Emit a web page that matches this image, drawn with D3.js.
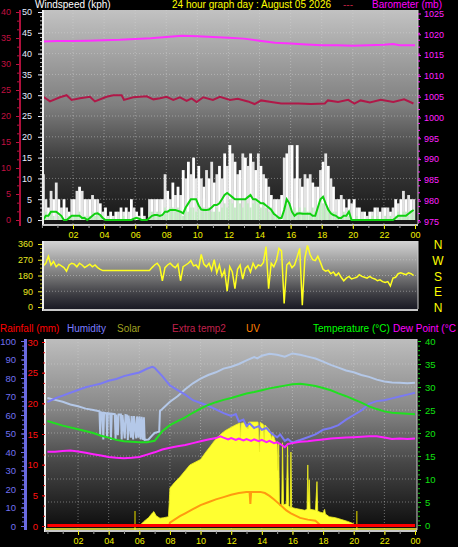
<!DOCTYPE html>
<html><head><meta charset="utf-8">
<script src="https://cdn.jsdelivr.net/npm/d3@7"></script>
<style>
body{margin:0;background:#000;}
svg{display:block;font-family:"Liberation Sans",Arial,sans-serif;}
</style>
</head><body>
<svg id="c" width="458" height="547"></svg>
<script>
// ---------- DATA ----------
const hourTicks = [2,4,6,8,10,12,14,16,18,20,22,24];
const hourLabels = ["02","04","06","08","10","12","14","16","18","20","22","00"];

// wind (kph), one value per 10 minutes
const gust = [11,5,3,7,5,9,5,3,5,3,2,5, 5,7,8,7,5,5,5,6,5,5,4,2, 3,1,2,1,2,2,3,2,3,2,5,3,
  2,1,3,1,0,5,5,5,5,5,5,11, 7,5,9,6,8,6,12,10,14,11,15,10, 13,10,8,12,10,14,9,11,13,10,16,13,
  18,16,14,11,12,16,15,13,16,14,12,16, 13,11,10,8,6,5,5,5,6,15,16,18, 18,10,18,10,8,11,10,11,9,8,8,12,
  14,16,13,10,8,5,5,6,5,3,5,4, 5,3,3,2,2,1,2,2,3,3,2,3, 3,3,2,3,5,4,5,7,5,6,5,5];
const windSpeed = [1,2,1,2,1,0,1,1,0,0,1,1, 1,1,2,1,1,1,1,2,1,2,1,0, 0,0,0,0,0,0,0,1,0,0,0,0,
  0,0,0,0,0,2,2,1,2,2,1,3, 2,3,3,2,3,2,1,3,2,3,3,2, 3,2,3,2,3,2,2,3,2,3,4,3,
  5,4,3,5,4,3,5,4,3,4,5,4, 3,4,3,2,3,2,1,1,0,3,4,3, 2,3,2,3,2,3,2,2,3,2,3,4,
  4,3,3,2,2,2,1,1,2,1,1,0, 0,1,0,0,0,0,0,1,0,1,0,0, 1,0,1,0,1,2,1,2,2,1,2,2];
const windAvg = [0,1,1,2,2,2,1.5,1,0,0,0.5,1, 1,1,1,0.5,0.5,0,0.5,1,1.5,1.6,1.2,0.5, 0,0,0,0,0,0,0,0,0,0,0,0.3,
  0.5,0.3,0,0,0,0.5,1,1.2,1.2,1,1.2,2, 2,2.4,2.4,2.4,2.2,2,1.6,3,4,5,5,5, 3.5,2.5,2.4,2.4,2.5,3,3.6,3.6,4,5,6,6.5,
  6,5.5,5,5,5,5,5,5.5,6,5,5,4.5, 4,4,3.5,3,2.5,1.5,1,0.5,0.5,2.4,5,4, 2,1,1.5,1.6,1.5,1.5,1.5,1.5,1,1,3,5,
  5.6,4,2.5,1.6,1.2,1,0.5,0.5,1,1,2,0, 0,0,0,0,0,0,0,0,0,0,0,0, 0,0,0,0,0.5,1,1,1,1,1.5,2,2.4];
// wind direction (degrees), one value per 10 minutes
const windDir = [235,250,290,240,260,230,245,235,225,205,240,250, 245,230,250,240,225,235,245,230,240,225,215,208,
  208,208,208,208,208,208,208,208,208,208,208,208, 208,208,208,208,208,208,225,240,250,230,150,225,
  240,250,235,225,245,150,230,240,250,265,235,240, 220,300,245,230,250,210,270,195,240,175,210,90,
  230,200,105,215,240,160,220,235,200,250,220,240, 235,255,345,105,250,230,265,335,320,20,240,255,
  225,240,285,335,10,280,352,300,270,265,290,255, 215,205,210,190,200,180,195,170,150,165,175,160,
  165,170,185,175,170,165,175,165,160,150,155,145, 140,145,120,165,170,190,195,190,185,195,190,180];

// barometer (mb), [hour, value]
const barometer = [[0,1017.9],[1,1018.0],[2,1018.0],[3,1018.1],[4,1018.2],[5,1018.3],[6,1018.5],[7,1018.7],[8,1019.0],
  [9,1019.3],[10,1019.2],[11,1019.0],[12,1018.8],[13,1018.6],[14,1018.1],[15,1017.6],[16,1017.4],[17,1017.2],
  [18,1017.0],[19,1017.0],[20,1016.9],[21,1017.0],[22,1017.1],[22.6,1017.3],[23,1017.0],[24,1017.0]];
// extra sensor (red left axis), [hour, value]
const extraTemp = [[0.09,23.7],[0.52,22.8],[1.16,23.6],[1.59,24.0],[1.91,23.1],[2.45,23.4],[3.09,23.7],[3.41,22.8],
  [4.16,23.7],[4.59,24.0],[5.13,24.0],[5.28,23.1],[5.88,23.6],[6.74,23.8],[7.17,23.2],[7.6,23.4],[8.02,23.7],
  [8.45,23.1],[8.88,23.6],[9.31,22.9],[9.63,23.4],[9.95,22.7],[10.38,23.6],[11.0,23.1],[11.45,23.7],[12.1,23.1],
  [12.6,23.3],[13.25,22.8],[13.68,22.3],[14.1,23.0],[14.75,22.7],[15.4,22.4],[16.5,22.4],[17.3,22.3],[18.2,22.4],
  [18.4,23.0],[19.05,22.7],[19.7,23.1],[20.1,22.4],[20.5,23.0],[21.1,22.6],[21.8,23.1],[22.6,22.7],[23.3,23.2],[23.9,22.4]];

// bottom panel, [hour, value]
const humidity = [[0,67],[0.5,69],[1,70.5],[1.5,72],[2,73.5],[2.5,75],[3,76],[3.5,77],[4,78.5],[4.5,79.5],[5,81],
  [5.5,82],[6,83],[6.5,85],[6.85,86],[7,85.5],[7.5,81],[8,76],[8.5,73.5],[9,71],[9.5,68],[10,66.5],[10.5,65],
  [11,63],[11.5,61],[12,59.5],[12.3,60.5],[12.5,56.5],[12.8,57.5],[13,54],[13.2,55.5],[13.5,53],[13.8,54],[14,52],
  [14.3,53],[14.5,51],[14.8,49],[15,48],[15.2,49.5],[15.5,46],[15.7,47],[16,45],[16.3,46],[16.5,46.5],[17,48],
  [17.5,49.5],[18,52],[18.5,53],[19,54.5],[19.5,57.5],[20,60],[20.5,62.5],[21,66],[21.5,67.5],[22,68],[22.5,69],
  [23,70],[23.5,71],[24,72]];
const extraTemp1 = [[0,27.6],[0.5,27.2],[1,26.8],[1.5,26.2],[2,25.8],[2.5,25.3],[3,25.0],[3.4,24.7],
  [3.45,19.5],[3.5,24.5],[3.6,24.4],[3.65,18.6],[3.7,24.4],[3.85,24.3],[3.9,19],[3.95,24.3],[4.1,24.2],[4.15,18.5],
  [4.2,24.2],[4.4,24.1],[4.45,18.7],[4.5,24],[4.6,19.5],[4.65,24],[4.8,24],[4.85,18.6],[4.9,23.9],[5.05,18.8],
  [5.1,23.9],[5.2,23.8],[5.25,18.5],[5.3,23.8],[5.45,19],[5.5,23.7],[5.6,18.6],[5.65,23.7],[5.8,18.8],[5.85,23.6],
  [5.95,19],[6.0,23.6],[6.1,18.6],[6.15,23.5],[6.25,18.5],[6.3,23.4],[6.35,18.5],[6.6,18.6],[6.85,19.5],[7.0,20],
  [7.3,20.3],[7.35,24.8],[7.5,25.2],[8,26.8],[8.5,28],[9,29.5],[9.5,30.8],[10,31.8],[10.5,32.6],[11,33.2],
  [11.5,34],[12,34.4],[12.5,35],[13,35.8],[13.5,36.5],[13.7,36.2],[14,36.8],[14.5,37.2],[15,37],[15.5,36.6],
  [16,37.3],[16.5,37],[17,36.6],[17.5,36.2],[18,35.5],[18.5,34.8],[19,34.2],[19.5,33.6],[20,33.2],[20.5,32.6],
  [21,32.2],[21.5,31.6],[22,31.2],[22.5,31.0],[23,30.9],[23.5,30.8],[24,30.9]];
const temperature = [[0,22.6],[1,21.6],[2,20.8],[3,20.0],[3.5,19.4],[4,19.0],[4.5,18.5],[5,18.2],[6,18.0],[6.5,18.0],
  [7,18.3],[7.5,20.4],[8,21.7],[8.5,22.6],[9,23.4],[9.5,24.4],[10,25.3],[10.5,26.1],[11,26.7],[11.5,27.2],[12,27.6],
  [12.5,28.1],[13,28.6],[13.5,28.9],[14,29.3],[14.5,29.7],[15,30.0],[15.5,30.3],[16,30.6],[16.5,30.7],[17,30.5],
  [17.5,30.2],[18,29.8],[18.5,29.3],[19,28.6],[19.5,28.0],[20,27.3],[20.5,26.6],[21,25.8],[21.5,25.2],[22,24.7],
  [22.5,24.4],[23,24.3],[23.5,24.2],[24,24.1]];
const dewPoint = [[0,15.9],[0.5,15.9],[1,16.1],[1.5,16.2],[2,16.0],[2.5,15.7],[3,15.4],[3.5,15.1],[4,14.8],[4.5,14.6],
  [5,14.5],[5.5,14.6],[6,14.8],[6.5,15.3],[7,15.8],[7.5,16.4],[8,16.8],[8.5,17.1],[9,17.4],[9.5,17.8],[10,18.2],
  [10.5,18.6],[11,18.9],[11.3,19.3],[11.5,19.0],[11.8,18.6],[12,18.9],[12.3,18.5],[12.5,18.8],[12.8,18.4],[13,18.7],
  [13.3,18.3],[13.5,18.6],[13.8,18.2],[14,18.5],[14.3,18.0],[14.5,18.3],[14.8,17.8],[15,18.0],[15.3,17.4],[15.5,16.9],
  [15.7,17.6],[16,17.8],[16.5,18.1],[17,18.2],[17.5,18.4],[18,18.6],[18.5,18.8],[19,18.9],[19.5,19.0],[20,19.1],
  [20.5,19.2],[21,19.3],[21.5,19.3],[22,19.0],[22.5,18.7],[23,18.8],[23.5,18.7],[24,18.8]];
const solar = [[6.0,0],[6.3,25],[6.6,45],[6.85,70],[6.95,78],[7.1,55],[7.35,42],[7.6,45],[7.9,50],[7.95,120],[8.0,205],
  [8.3,235],[8.65,265],[9.0,300],[9.3,330],[9.65,345],[10.0,360],[10.3,395],[10.6,427],[10.9,460],[11.26,492],
  [11.6,515],[11.92,530],[12.25,545],[12.57,557],[12.6,470],[12.65,555],[12.9,560],[13.1,525],[13.15,562],[13.5,562],
  [13.75,562],[13.85,400],[13.9,560],[14.1,548],[14.15,460],[14.2,546],[14.5,519],[14.65,470],[14.7,505],[14.85,465],
  [15.0,440],[15.05,300],[15.1,445],[15.15,110],[15.3,115],[15.35,450],[15.42,115],[15.6,120],[15.68,430],[15.75,110],
  [15.85,100],[15.9,400],[15.95,100],[16.2,95],[16.5,90],[16.8,85],[16.95,90],[17.0,330],[17.05,130],[17.1,250],
  [17.15,90],[17.5,85],[17.6,240],[17.65,80],[17.8,75],[18.0,70],[18.1,90],[18.15,65],[18.4,50],[18.8,45],[19.2,35],
  [19.6,25],[20.0,12],[20.1,0]];
const uvIndex = [[7.95,0],[8.0,0.3],[8.3,0.55],[8.65,0.85],[9.0,1.1],[9.5,1.45],[10.0,1.8],[10.5,2.05],[11.0,2.3],
  [11.5,2.5],[12.0,2.7],[12.5,2.85],[13.0,2.95],[13.2,2.95],[13.25,1.9],[13.3,2.95],[13.6,2.95],[13.9,2.95],[14.2,2.85],
  [14.5,2.6],[14.8,2.3],[15.05,2.0],[15.3,1.7],[15.6,1.35],[15.9,1.1],[16.2,0.9],[16.5,0.7],[17.0,0.55],[17.5,0.45],
  [17.8,0.1],[17.85,0]];
const rainfall = [[0,0],[24,0]];
const sunMarks = [5.72, 20.2];
const compass = ["N","W","S","E","N"];

// ---------- LAYOUT ----------
const svg = d3.select("#c");
const defs = svg.append("defs");
function grad(id, stops){
  const g = defs.append("linearGradient").attr("id",id).attr("x1",0).attr("y1",0).attr("x2",0).attr("y2",1);
  stops.forEach(([o,c])=>g.append("stop").attr("offset",o).attr("stop-color",c));
}
grad("gTop", [[0,"#c2c2c2"],[0.45,"#7e7e7e"],[0.7,"#3c3c3c"],[1,"#151515"]]);
grad("gMid", [[0,"#d4d4d4"],[0.5,"#7a7a7a"],[0.8,"#3a3a40"],[1,"#1a1a24"]]);
grad("gBot", [[0,"#bdbdbd"],[0.35,"#8a8a8a"],[0.65,"#464646"],[1,"#0c0c0c"]]);

const TOP = {x0:43, x1:418, y0:10, y1:224};
const MID = {x0:43, x1:418, y0:241, y1:309};
const BOT = {x0:45, x1:417, y0:339, y1:530};

const xTop = d3.scaleLinear().domain([0,24]).range([41.9,415]);
const xBot = d3.scaleLinear().domain([0,24]).range([47.4,415]);
const yWind = d3.scaleLinear().domain([0,50]).range([220,12]);
const yRed = d3.scaleLinear().domain([0,40]).range([220,12]);
const yBaro = d3.scaleLinear().domain([975,1025]).range([220,12]);
const yDir = d3.scaleLinear().domain([0,360]).range([307,244]);
const yHum = d3.scaleLinear().domain([0,100]).range([526,341]);
const yRain = d3.scaleLinear().domain([0,30]).range([526,342]);
const yTemp = d3.scaleLinear().domain([0,40]).range([525,341]);
const ySolar = d3.scaleLinear().domain([0,1000]).range([526,341]);
const yUV = d3.scaleLinear().domain([0,16]).range([526,341]);
const fmt = d3.format("d");

function panel(p, gid){
  svg.append("rect").attr("x",p.x0).attr("y",p.y0).attr("width",p.x1-p.x0).attr("height",p.y1-p.y0).attr("fill",`url(#${gid})`);
}
function grid(p, xs, xvals, ys, yvals){
  const g = svg.append("g").attr("stroke","#d8d8d8").attr("stroke-opacity",0.45).attr("stroke-dasharray","1,2");
  xvals.forEach(v=>g.append("line").attr("x1",xs(v)).attr("x2",xs(v)).attr("y1",p.y0).attr("y2",p.y1));
  yvals.forEach(v=>g.append("line").attr("x1",p.x0).attr("x2",p.x1).attr("y1",ys(v)).attr("y2",ys(v)));
}
function frame(p){
  svg.append("line").attr("x1",p.x0).attr("x2",p.x0).attr("y1",p.y0).attr("y2",p.y1+2).attr("stroke","#f0f0f0").attr("stroke-width",2);
  svg.append("line").attr("x1",p.x0).attr("x2",p.x1).attr("y1",p.y1+1).attr("y2",p.y1+1).attr("stroke","#c8c8c8").attr("stroke-width",2);
  svg.append("line").attr("x1",p.x1).attr("x2",p.x1).attr("y1",p.y0).attr("y2",p.y1).attr("stroke","#d0d0d0").attr("stroke-width",1);
}
function axis(gen, tx, ty, color, fontSize){
  const g = svg.append("g").attr("transform",`translate(${tx},${ty})`).call(gen);
  g.select("path.domain").remove();
  g.selectAll("line").attr("stroke",color);
  g.selectAll("text").attr("fill",color).style("font-size",(fontSize||9)+"px").style("font-family",'"Liberation Sans",Arial,sans-serif');
  return g;
}
function minor(gen, tx, ty, color){
  const g = svg.append("g").attr("transform",`translate(${tx},${ty})`).call(gen.tickFormat(""));
  g.select("path.domain").remove();
  g.selectAll("line").attr("stroke",color);
}
const hourly = d3.range(0,25,1);

// ---------- TOP PANEL ----------
panel(TOP,"gTop");
grid(TOP, xTop, hourTicks.slice(0,11), yWind, d3.range(5,50,5));
const binW = xTop(1/6)-xTop(0);
svg.append("g").selectAll("rect").data(gust).join("rect")
  .attr("x",(d,i)=>xTop(i/6)).attr("width",binW+0.2)
  .attr("y",d=>yWind(d)).attr("height",d=>yWind(0)-yWind(d))
  .attr("fill",(d,i)=> i%2 ? "#e4e4e4" : "#ffffff");
svg.append("g").selectAll("rect").data(windSpeed).join("rect")
  .attr("x",(d,i)=>xTop(i/6)+0.3).attr("width",binW-0.6)
  .attr("y",d=>yWind(d)).attr("height",d=>yWind(0)-yWind(d))
  .attr("fill","#c4ecc4");
svg.append("path").datum(windAvg).attr("fill","none").attr("stroke","#10d010").attr("stroke-width",2)
  .attr("d",d3.line().x((d,i)=>xTop(i/6+1/12)).y(d=>yWind(d)));
svg.append("path").datum(barometer).attr("fill","none").attr("stroke","#ff30ff").attr("stroke-width",2)
  .attr("d",d3.line().x(d=>xTop(d[0])).y(d=>yBaro(d[1])));
svg.append("path").datum(extraTemp).attr("fill","none").attr("stroke","#b01848").attr("stroke-width",2)
  .attr("d",d3.line().x(d=>xTop(d[0])).y(d=>yRed(d[1])));
frame(TOP);

// top axes
svg.append("line").attr("x1",20).attr("x2",20).attr("y1",TOP.y0).attr("y2",TOP.y1+2).attr("stroke","#b0103c").attr("stroke-width",2);
axis(d3.axisLeft(yRed).tickValues(d3.range(0,41,5)).tickSize(3).tickPadding(5), 19, 0, "#c01040");
minor(d3.axisLeft(yRed).tickValues(d3.range(0,40,5/3)).tickSize(2), 19, 0, "#c01040");
axis(d3.axisLeft(yWind).tickValues(d3.range(0,51,5)).tickSize(4).tickPadding(6), 42, 0, "#e4ecff");
minor(d3.axisLeft(yWind).tickValues(d3.range(0,50,1)).tickSize(2), 42, 0, "#c8c8c8");
axis(d3.axisRight(yBaro).tickValues(d3.range(975,1026,5)).tickFormat(fmt).tickSize(3).tickPadding(3), 418, 1.5, "#ff20ff");
minor(d3.axisRight(yBaro).tickValues(d3.range(975,1025,5/3)).tickSize(2), 418, 0, "#ff20ff");
minor(d3.axisBottom(xTop).tickValues(hourly).tickSize(3), 0, 225, "#a0a0a0");
axis(d3.axisBottom(xTop).tickValues(hourTicks).tickFormat((d,i)=>hourLabels[i]).tickSize(4).tickPadding(3), 0, 225, "#f0f000");

// titles
const titles = [["Windspeed (kph)","#ffffff",35],["24 hour graph day : August 05 2026","#ffff00",172],
  ["---","#c02040",343],["Barometer (mb)","#ff00ff",372]];
svg.append("g").selectAll("text").data(titles).join("text")
  .attr("x",d=>d[2]).attr("y",7.5).attr("fill",d=>d[1]).style("font-size","10px").text(d=>d[0]);

// ---------- MIDDLE PANEL ----------
panel(MID,"gMid");
grid(MID, xTop, [], yDir, [90,180,270]);
svg.append("path").datum(windDir).attr("fill","none").attr("stroke","#ffff20").attr("stroke-width",1.5)
  .attr("d",d3.line().x((d,i)=>xTop(i/6+1/12)).y(d=>yDir(d)));
frame(MID);
axis(d3.axisLeft(yDir).tickValues([0,90,180,270,360]).tickSize(4).tickPadding(5), 42, 0, "#e8e820");
minor(d3.axisLeft(yDir).tickValues(d3.range(0,360,22.5)).tickSize(2), 42, 0, "#b0b020");
svg.append("g").selectAll("text").data(compass).join("text")
  .attr("x",438).attr("y",(d,i)=>yDir(360-i*90)+5).attr("text-anchor","middle")
  .attr("fill","#ffff00").style("font-size","12px").text(d=>d);

// ---------- BOTTOM PANEL ----------
panel(BOT,"gBot");
grid(BOT, xBot, hourTicks.slice(0,11), yTemp, d3.range(5,40,5));
svg.append("path").datum(solar).attr("fill","#ffff30").attr("stroke","#f0f020").attr("stroke-width",0.8)
  .attr("d",d3.area().x(d=>xBot(d[0])).y0(ySolar(0)).y1(d=>ySolar(d[1])));
svg.append("path").datum(uvIndex).attr("fill","none").attr("stroke","#ff9a10").attr("stroke-width",2)
  .attr("d",d3.line().x(d=>xBot(d[0])).y(d=>yUV(d[1])));
svg.append("path").datum(extraTemp1).attr("fill","none").attr("stroke","#b4c8e8").attr("stroke-width",2)
  .attr("d",d3.line().x(d=>xBot(d[0])).y(d=>yTemp(d[1])));
svg.append("path").datum(humidity).attr("fill","none").attr("stroke","#7a7af4").attr("stroke-width",2)
  .attr("d",d3.line().x(d=>xBot(d[0])).y(d=>yHum(d[1])));
svg.append("path").datum(temperature).attr("fill","none").attr("stroke","#20e020").attr("stroke-width",2)
  .attr("d",d3.line().x(d=>xBot(d[0])).y(d=>yTemp(d[1])));
svg.append("path").datum(dewPoint).attr("fill","none").attr("stroke","#ff20ff").attr("stroke-width",2)
  .attr("d",d3.line().x(d=>xBot(d[0])).y(d=>yTemp(d[1])));
svg.append("g").selectAll("line").data(sunMarks).join("line")
  .attr("x1",d=>xBot(d)).attr("x2",d=>xBot(d)).attr("y1",511).attr("y2",BOT.y1)
  .attr("stroke","#a8a000").attr("stroke-width",1.5);
svg.append("line").attr("x1",BOT.x0).attr("x2",BOT.x1).attr("y1",529).attr("y2",529).attr("stroke","#ffff40").attr("stroke-width",1.5);
svg.append("path").datum(rainfall).attr("fill","none").attr("stroke","#ff0000").attr("stroke-width",3)
  .attr("d",d3.line().x(d=>xBot(d[0])).y(d=>yRain(d[1])-0.5));
frame(BOT);

// bottom axes
svg.append("line").attr("x1",25.5).attr("x2",25.5).attr("y1",BOT.y0).attr("y2",BOT.y1).attr("stroke","#6a6ae0").attr("stroke-width",3);
axis(d3.axisLeft(yHum).tickValues(d3.range(0,101,10)).tickSize(3).tickPadding(5), 24, 0, "#7070f0", 9.5);
minor(d3.axisLeft(yHum).tickValues(d3.range(0,100,2.5)).tickSize(2), 24, 0, "#6a6ae0");
axis(d3.axisLeft(yRain).tickValues(d3.range(0,31,5)).tickSize(3).tickPadding(4), 45, 0, "#ff1010", 9.5);
minor(d3.axisLeft(yRain).tickValues(d3.range(0,30,5/3)).tickSize(2), 45, 0, "#d01010");
axis(d3.axisRight(yTemp).tickValues(d3.range(0,41,5)).tickSize(3).tickPadding(4), 418, 0, "#10e010", 9.5);
minor(d3.axisRight(yTemp).tickValues(d3.range(0,40,1)).tickSize(2), 418, 0, "#10c010");
minor(d3.axisBottom(xBot).tickValues(hourly).tickSize(3), 0, 531, "#a0a0a0");
axis(d3.axisBottom(xBot).tickValues(hourTicks).tickFormat((d,i)=>hourLabels[i]).tickSize(4).tickPadding(3), 0, 531, "#f0f000");

// legend row
const legend = [["Rainfall (mm)","#ff0000",0],["Humidity","#7c7cff",67],["Solar","#a0a020",117],
  ["Extra temp2","#c0204c",172],["UV","#ff8000",246],["Temperature (°C)","#00ff00",313],["Dew Point (°C","#ff00ff",393]];
svg.append("g").selectAll("text").data(legend).join("text")
  .attr("x",d=>d[2]).attr("y",332).attr("fill",d=>d[1]).style("font-size","10px").text(d=>d[0]);
</script>
</body></html>
